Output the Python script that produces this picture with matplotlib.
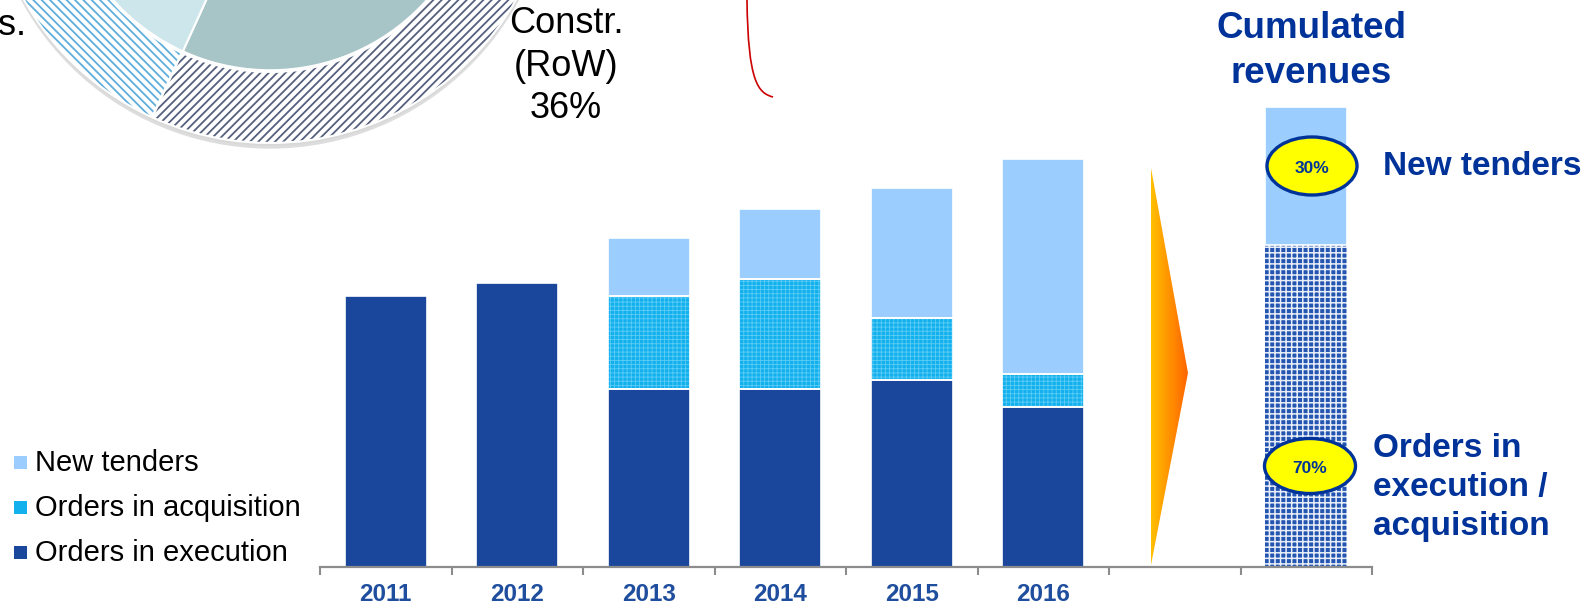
import numpy as np
import matplotlib
matplotlib.use("Agg")
import matplotlib.pyplot as plt
from matplotlib.patches import Polygon, Ellipse, Rectangle, PathPatch, Circle
from matplotlib.path import Path
from matplotlib.colors import to_rgb

plt.rcParams['font.family'] = ['Liberation Sans', 'DejaVu Sans']

# ---------------- data ----------------
years = ['2011', '2012', '2013', '2014', '2015', '2016']
series_names = ['New tenders', 'Orders in acquisition', 'Orders in execution']
orders_execution = [27.1, 28.4, 17.8, 17.8, 18.7, 16.0]
orders_acquisition = [0.0, 0.0, 9.3, 11.0, 6.2, 3.3]
new_tenders = [0.0, 0.0, 5.8, 7.0, 13.0, 21.5]

cum_labels = ['Orders in execution / acquisition', 'New tenders']
cum_shares = [70, 30]          # percent
cum_total_height = 46.0        # drawn height of cumulated bar

pie_outer_vals = [36, 44, 20]   # Constr. (RoW) 36% visible, rest cut off
pie_inner_vals = [50, 30, 20]

# ---------------- colours ----------------
C_EXEC = '#1A479C'
C_ACQ = '#12B1EE'
C_NT = '#9BCDFE'
C_TITLE = '#003399'
C_YEAR = '#1F4E9E'

W, H = 1590, 609
fig = plt.figure(figsize=(W / 100, H / 100), dpi=100)

def fx(px):
    return px / W

def fy(py_top):
    return (H - py_top) / H

# ---------------- pie (partially visible) ----------------
cx, cy, R = 270, -140, 283
S = 1.08  # axes half-size in units of radius
pax = fig.add_axes([fx(cx - S * R), fy(cy + S * R), 2 * S * R / W, 2 * S * R / H])
pax.add_patch(Circle((0.0, -0.02), 1.0, facecolor='#BDBDBD', edgecolor='none', alpha=0.5, zorder=0))
pax.add_patch(Circle((0.0, -0.01), 1.0, facecolor='#D6D6D6', edgecolor='none', alpha=0.6, zorder=0))
plt.rcParams['hatch.linewidth'] = 1.3
outer_hatch_cols = ['#55607F', '#8A97B2', '#5EAEDA']
outer_hatches = ['////', '////', '\\\\\\\\']
wedges, _ = pax.pie(pie_outer_vals, radius=1.0, startangle=245.4, counterclock=True,
                    colors=['white'] * 3, wedgeprops=dict(width=0.251, linewidth=0))
for w_, hc, ht in zip(wedges, outer_hatch_cols, outer_hatches):
    w_.set_edgecolor(hc)
    w_.set_hatch(ht)
    w_.set_linewidth(0)
pax.pie(pie_outer_vals, radius=1.0, startangle=245.4, counterclock=True,
        colors=['none'] * 3, wedgeprops=dict(width=0.251, linewidth=1.5, edgecolor='white'))
pax.pie(pie_inner_vals, radius=0.743, startangle=245.5, counterclock=True,
        colors=['#A7C4C7', '#B6D3D7', '#CCE6EB'], wedgeprops=dict(linewidth=1.5, edgecolor='white'))
pax.set_xlim(-S, S)
pax.set_ylim(-S, S)
pax.set_axis_off()

# ---------------- bar chart ----------------
ax = fig.add_axes([fx(320), fy(567), (1372 - 320) / W, (567 - 100) / H])
ax.patch.set_visible(False)
x = np.arange(len(years))
bw = 0.625
exe = np.array(orders_execution)
acq = np.array(orders_acquisition)
nt = np.array(new_tenders)

ax.bar(x, exe, bw, color=C_EXEC, linewidth=0)
plt.rcParams['hatch.linewidth'] = 0.6
ax.bar(x, acq, bw, bottom=exe, facecolor=C_ACQ, edgecolor='#5DCBF5', hatch='++++', linewidth=0)
ax.bar(x, nt, bw, bottom=exe + acq, color=C_NT, linewidth=0)
# white separators
for vals, bots in [(exe, np.zeros_like(exe)), (acq, exe), (nt, exe + acq)]:
    m = vals > 0
    ax.bar(x[m], vals[m], bw, bottom=bots[m], facecolor='none', edgecolor='white', linewidth=1.2)

# cumulated bar
cum_x = len(years) + 1
cum_vals = [s * cum_total_height / 100 for s in cum_shares]
plt.rcParams['hatch.linewidth'] = 1.1
ax.bar([cum_x], [cum_vals[0]], bw, facecolor='#2455B0', edgecolor='#E8EEF8', hatch='+++', linewidth=0)
ax.bar([cum_x], [cum_vals[1]], bw, bottom=[cum_vals[0]], color=C_NT, linewidth=0)
ax.bar([cum_x], [cum_vals[1]], bw, bottom=[cum_vals[0]], facecolor='none', edgecolor='white', linewidth=1.2)

ax.set_xlim(-0.5, 7.5)
ax.set_ylim(0, 46.7)
ax.set_xticks(np.arange(8))
ax.set_xticklabels(years + ['', ''], fontsize=17.5, fontweight='bold', color=C_YEAR)
ax.tick_params(axis='x', which='major', length=0, pad=11.5)
ax.set_xticks(np.arange(-0.5, 8.0, 1.0), minor=True)
ax.tick_params(axis='x', which='minor', length=6, width=1.5, color='#8C8C8C', direction='out')
ax.set_yticks([])
for s in ['top', 'right', 'left']:
    ax.spines[s].set_visible(False)
ax.spines['bottom'].set_color('#8C8C8C')
ax.spines['bottom'].set_linewidth(1.6)

# ---------------- overlay (pixel coordinates) ----------------
ov = fig.add_axes([0, 0, 1, 1], zorder=10)
ov.patch.set_visible(False)
ov.set_axis_off()

# gradient arrow
tri = Polygon([(1151, 168), (1188, 373), (1151, 565)], closed=True, facecolor='none', edgecolor='none')
ov.add_patch(tri)
c0 = np.array(to_rgb('#FFC000'))
c1 = np.array(to_rgb('#FF6400'))
t = np.linspace(0, 1, 256)[None, :, None]
grad = c0 + (c1 - c0) * t
im = ov.imshow(grad, extent=(1151, 1188, 565, 168), aspect='auto', interpolation='bilinear')
im.set_clip_path(tri)

# red curve
curve = Path([(747, 0), (748, 82), (758, 93), (773, 97)],
             [Path.MOVETO, Path.CURVE4, Path.CURVE4, Path.CURVE4])
ov.add_patch(PathPatch(curve, facecolor='none', edgecolor='#CC0000', linewidth=1.2))

# pie texts
narrow = ['Liberation Sans Narrow', 'Liberation Sans', 'DejaVu Sans']
ov.text(-2, 35, 's.', fontsize=26, ha='left', va='baseline', color='black', family=narrow)
for txt, yb in [('Constr.', 33), ('(RoW)', 76), ('36%', 118)]:
    ov.text(566, yb, txt, fontsize=26, ha='center', va='baseline', color='black', family=narrow)

# legend
leg_cols = [C_NT, C_ACQ, C_EXEC]
leg_base = [471, 516, 561]
for name, col, yb in zip(series_names, leg_cols, leg_base):
    ov.add_patch(Rectangle((14, yb - 15), 13, 13, facecolor=col, edgecolor='none'))
    ov.text(35, yb, name, fontsize=21, ha='left', va='baseline', color='black')

# cumulated revenue texts
ov.text(1311, 38, 'Cumulated', fontsize=26.5, fontweight='bold', ha='center', va='baseline', color=C_TITLE)
ov.text(1311, 83, 'revenues', fontsize=26.5, fontweight='bold', ha='center', va='baseline', color=C_TITLE)
ov.text(1383, 175, cum_labels[1], fontsize=24, fontweight='bold', ha='left', va='baseline', color=C_TITLE)
for txt, yb in [('Orders in', 457), ('execution /', 496), ('acquisition', 535)]:
    ov.text(1373, yb, txt, fontsize=24, fontweight='bold', ha='left', va='baseline', color=C_TITLE)

# percentage ellipses
for share, (ex, ey, ew, eh) in zip([cum_shares[1], cum_shares[0]],
                                   [(1312, 166, 90, 58), (1310, 466, 91, 55)]):
    ov.add_patch(Ellipse((ex, ey), ew, eh, facecolor='#FFFF00', edgecolor=C_TITLE, linewidth=2.4))
    ov.text(ex, ey + 7, f'{share}%', fontsize=12.5, fontweight='bold', ha='center', va='baseline', color=C_TITLE)

ov.set_xlim(0, W)
ov.set_ylim(H, 0)

fig.savefig('out.png', dpi=100)
